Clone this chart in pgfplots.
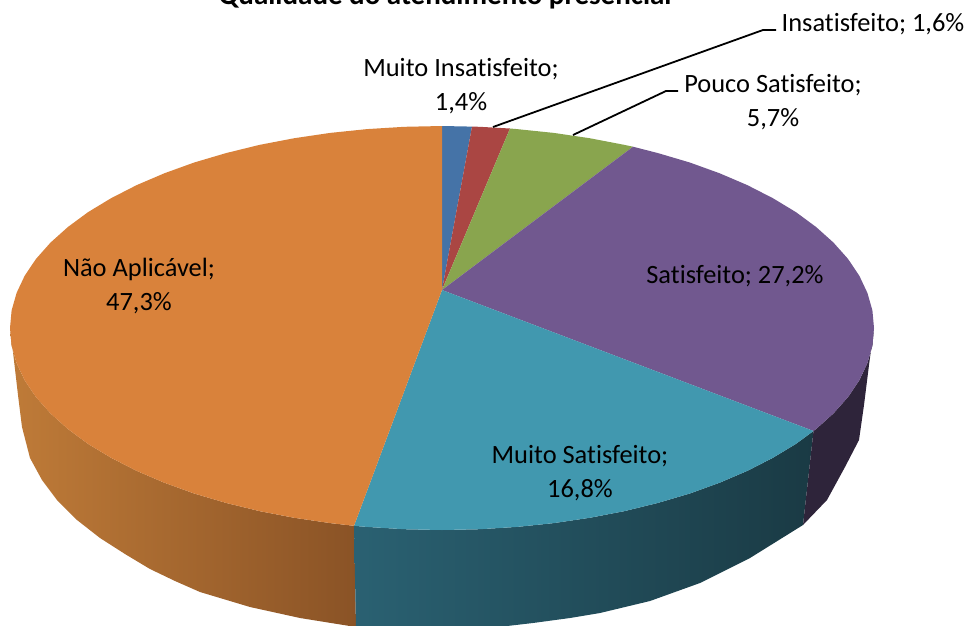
\documentclass[border=0pt]{standalone}
\usepackage{pgfplots}
\pgfplotsset{compat=1.18}
\usepackage{fontspec}
\setmainfont[Ligatures=NoCommon]{Carlito}
\definecolor{cOr}{HTML}{D9823B}
\definecolor{cBl}{HTML}{4573A7}
\definecolor{cRe}{HTML}{AA4643}
\definecolor{cGr}{HTML}{89A54E}
\definecolor{cPu}{HTML}{71588F}
\definecolor{cTe}{HTML}{4198AF}
\definecolor{wOrL}{HTML}{BF7B38}
\definecolor{wOrR}{HTML}{8A5326}
\definecolor{wTeL}{HTML}{2A6172}
\definecolor{wTeR}{HTML}{1A3A44}
\definecolor{wPu}{HTML}{2E243A}
\tikzset{lab/.style={font=\fontsize{26.4}{33.5}\selectfont,align=center,anchor=base,text=black,inner sep=0pt}}
\begin{document}
\begin{tikzpicture}
\path[use as bounding box] (0,0) rectangle (970pt,625pt);
\clip (0,0) rectangle (970pt,625pt);
\begin{axis}[at={(0,0)},anchor=south west,width=970pt,height=625pt,scale only axis,
  xmin=0,xmax=970,ymin=0,ymax=625,y dir=reverse,hide axis,clip=true]
% side walls (outlines)
\addplot[left color=wOrL,right color=wOrR,draw=none,no marks] coordinates {
(10,328)(11.6,345.6)(16.6,363.1)(24.7,380.3)(36,397.1)(50.5,413.4)(67.9,429)(88.1,443.9)(111.1,457.8)(136.5,470.8)(164.3,482.7)(194.2,493.5)(226,502.9)(259.4,511.1)(294.3,517.8)(330.2,523.1)(354,525.8)
(356,627)(300,618)(250,607)(200,592)(175,581)(150,569)(125,554)(100,538)(77,520)(57,500)(42,480)(30,458)(22,427)(18,395)(13,352)(10,328)};
\addplot[left color=wTeL,right color=wTeR,draw=none,no marks] coordinates {
(354,525.8)(367,526.9)(404.3,529.2)(442,530)(479.7,529.2)(517,526.9)(553.8,523.1)(589.7,517.8)(624.6,511.1)(658,502.9)(689.8,493.5)(719.7,482.7)(747.5,470.8)(772.9,457.8)(795.9,443.9)(813.5,431)
(803,525)(750,558)(700,583)(650,601)(600,613)(570,618)(533,623)(490,628)(445,631)(400,630)(356,627)(354,525.8)};
\addplot[fill=wPu,draw=none,no marks] coordinates {
(813.5,431)(816.1,429)(833.5,413.4)(848,397.1)(859.3,380.3)(867.4,363.1)(872.4,345.6)(874,328)
(873,335)(869,365)(864,405)(859,440)(845,467)(827,500)(803,525)(813.5,431)};
% top surface wedges
\addplot[fill=cBl,draw=none,no marks] coordinates {(442,290)(442,126)(472,126.6)(442,290)};
\addplot[fill=cRe,draw=none,no marks] coordinates {(442,290)(472,126.6)(479.7,126.8)(510,128.5)(442,290)};
\addplot[fill=cGr,draw=none,no marks] coordinates {(442,290)(510,128.5)(517,129.1)(553.8,132.9)(589.7,138.2)(624.6,144.9)(633,146.7)(442,290)};
\addplot[fill=cPu,draw=none,no marks] coordinates {(442,290)(633,146.7)(658,153.1)(689.8,162.5)(719.7,173.3)(747.5,185.2)(772.9,198.2)(795.9,212.1)(816.1,227)(833.5,242.6)(848,258.9)(859.3,275.7)(867.4,292.9)(872.4,310.4)(874,328)(872.4,345.6)(867.4,363.1)(859.3,380.3)(848,397.1)(833.5,413.4)(816.1,429)(813.5,431)(442,290)};
\addplot[fill=cTe,draw=none,no marks] coordinates {(442,290)(813.5,431)(795.9,443.9)(772.9,457.8)(747.5,470.8)(719.7,482.7)(689.8,493.5)(658,502.9)(624.6,511.1)(589.7,517.8)(553.8,523.1)(517,526.9)(479.7,529.2)(442,530)(404.3,529.2)(367,526.9)(354,525.8)(442,290)};
\addplot[fill=cOr,draw=none,no marks] coordinates {(442,290)(354,525.8)(330.2,523.1)(294.3,517.8)(259.4,511.1)(226,502.9)(194.2,493.5)(164.3,482.7)(136.5,470.8)(111.1,457.8)(88.1,443.9)(67.9,429)(50.5,413.4)(36,397.1)(24.7,380.3)(16.6,363.1)(11.6,345.6)(10,328)(11.6,310.4)(16.6,292.9)(24.7,275.7)(36,258.9)(50.5,242.6)(67.9,227)(88.1,212.1)(111.1,198.2)(136.5,185.2)(164.3,173.3)(194.2,162.5)(226,153.1)(259.4,144.9)(294.3,138.2)(330.2,132.9)(367,129.1)(404.3,126.8)(442,126)(442,290)};
% leader lines
\addplot[black,line width=1.8pt,no marks] coordinates {(493,127)(763,30)(776,30)};
\addplot[black,line width=1.8pt,no marks] coordinates {(573,135)(666,91)(678,91)};
% labels
\node[lab] at (axis cs:445,4) {\fontsize{29}{34}\selectfont\bfseries Qualidade do atendimento presencial};
\node[lab] at (axis cs:461,110) {Muito Insatisfeito;\\1,4\%};
\node[lab] at (axis cs:873,31) {Insatisfeito; 1,6\%};
\node[lab] at (axis cs:773,126) {Pouco Satisfeito;\\5,7\%};
\node[lab] at (axis cs:139,310) {Não Aplicável;\\47,3\%};
\node[lab] at (axis cs:735,283) {Satisfeito; 27,2\%};
\node[lab] at (axis cs:580,497) {Muito Satisfeito;\\16,8\%};
\end{axis}
\end{tikzpicture}
\end{document}
